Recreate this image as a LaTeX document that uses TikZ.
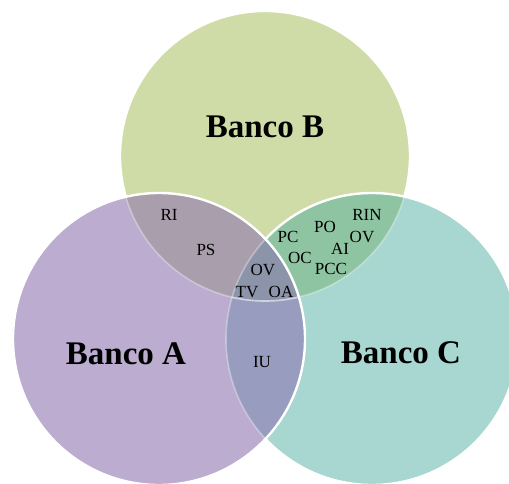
\documentclass[tikz,border=0pt]{standalone}
\usepackage{fontspec}
\setmainfont{Liberation Serif}
\definecolor{setA}{HTML}{BBACD0}
\definecolor{setB}{HTML}{CFDCA8}
\definecolor{setC}{HTML}{A8D6D0}
\definecolor{setAB}{HTML}{A89EAC}
\definecolor{setBC}{HTML}{8EC4A2}
\definecolor{setAC}{HTML}{989CBE}
\definecolor{setABC}{HTML}{8C94AA}
\tikzset{
  ring/.style={draw=white, line width=2.4pt},
  faintring/.style={draw=white, line width=1.6pt, draw opacity=0.35},
  bank/.style={anchor=base, font=\fontsize{33}{38}\selectfont\bfseries, inner sep=0pt},
  item/.style={anchor=base, font=\fontsize{17}{20}\selectfont, inner sep=0pt},
}
\def\circA{(159,339) circle[radius=146pt]}
\def\circB{(265,156) circle[radius=145pt]}
\def\circC{(372,339) circle[radius=146pt]}
\begin{document}
\begin{tikzpicture}[x=1pt,y=-1pt]
  \useasboundingbox (0,0) rectangle (509,484);
  % Banco B
  \fill[setB] \circB;
  \draw[ring] \circB;
  % Banco C and its overlap with B
  \fill[setC] \circC;
  \begin{scope}
    \clip \circB;
    \fill[setBC] \circC;
  \end{scope}
  \draw[ring] \circC;
  % Banco A and its overlaps
  \fill[setA] \circA;
  \begin{scope}
    \clip \circA;
    \fill[setAB] \circB;
    \fill[setAC] \circC;
    \clip \circB;
    \fill[setABC] \circC;
  \end{scope}
  \draw[ring] \circA;
  % outlines seen through the upper circles
  \begin{scope}
    \clip \circA;
    \draw[faintring] \circC;
    \draw[faintring] \circB;
  \end{scope}
  \begin{scope}
    \clip \circC;
    \draw[faintring] \circB;
  \end{scope}
  % set names
  \node[bank] (bA) at (126,364) {Banco A};
  \node[bank] (bB) at (265,138) {Banco B};
  \node[bank] (bC) at (401,363) {Banco C};
  % elements
  \node[item] (ri)  at (169,221) {RI};
  \node[item] (ps)  at (206,255) {PS};
  \node[item] (ov1) at (263,275) {OV};
  \node[item] (tv)  at (247,297) {TV};
  \node[item] (oa)  at (281,297) {OA};
  \node[item] (pc)  at (288,242) {PC};
  \node[item] (po)  at (325,232) {PO};
  \node[item] (rin) at (367,221) {RIN};
  \node[item] (ov2) at (362,242) {OV};
  \node[item] (ai)  at (340,254) {AI};
  \node[item] (oc)  at (300,263) {OC};
  \node[item] (pcc) at (331,274) {PCC};
  \node[item] (iu)  at (262,367) {IU};
\end{tikzpicture}
\end{document}
